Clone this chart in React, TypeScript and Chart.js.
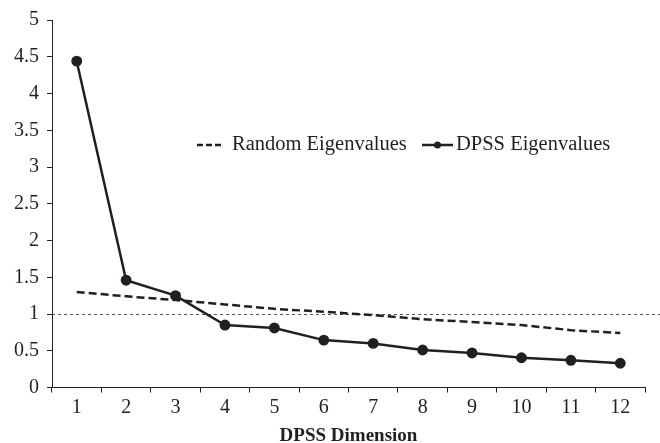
import React, { useEffect, useRef } from "react";
import { Chart, registerables } from "chart.js";

Chart.register(...registerables);

const categories = ["1", "2", "3", "4", "5", "6", "7", "8", "9", "10", "11", "12"];
const randomEigenvalues = [1.3, 1.24, 1.19, 1.13, 1.07, 1.03, 0.985, 0.93, 0.89, 0.85, 0.78, 0.74];
const dpssEigenvalues = [4.44, 1.46, 1.25, 0.85, 0.81, 0.645, 0.6, 0.51, 0.47, 0.405, 0.37, 0.33];
const thresholdValue = 1;
const xTitle = "DPSS Dimension";
const legendLabels = ["Random Eigenvalues", "DPSS Eigenvalues"];

const FONT = "'Liberation Serif', 'Times New Roman', serif";
const INK = "#231f20";

const thresholdPlugin = {
  id: "threshold",
  beforeDatasetsDraw(chart: any) {
    const { ctx, chartArea, scales } = chart;
    const y = Math.round(scales.y.getPixelForValue(thresholdValue)) + 0.5;
    ctx.save();
    ctx.strokeStyle = "#555";
    ctx.lineWidth = 1;
    ctx.setLineDash([3, 3]);
    ctx.beginPath();
    ctx.moveTo(chartArea.left, y);
    ctx.lineTo(chart.width, y);
    ctx.stroke();
    ctx.restore();
  },
};

const legendPlugin = {
  id: "insideLegend",
  afterDraw(chart: any) {
    const { ctx } = chart;
    const y = 145;
    ctx.save();
    ctx.font = `20.5px ${FONT}`;
    ctx.fillStyle = INK;
    ctx.textBaseline = "middle";
    ctx.textAlign = "left";
    ctx.strokeStyle = INK;
    ctx.lineWidth = 2.5;
    ctx.setLineDash([6, 3]);
    ctx.beginPath();
    ctx.moveTo(197, y);
    ctx.lineTo(223, y);
    ctx.stroke();
    ctx.setLineDash([]);
    ctx.fillText(legendLabels[0], 232, y);
    ctx.beginPath();
    ctx.moveTo(422, y);
    ctx.lineTo(453, y);
    ctx.stroke();
    ctx.beginPath();
    ctx.arc(437.5, y, 3.5, 0, Math.PI * 2);
    ctx.fill();
    ctx.fillText(legendLabels[1], 456, y);
    ctx.restore();
  },
};

export default function App() {
  const ref = useRef<HTMLCanvasElement>(null);
  useEffect(() => {
    document.body.style.margin = "0";
    const chart = new Chart(ref.current as HTMLCanvasElement, {
      type: "line",
      data: {
        labels: categories,
        datasets: [
          {
            label: legendLabels[0],
            data: randomEigenvalues,
            borderColor: INK,
            borderWidth: 2.5,
            borderDash: [8, 4],
            pointRadius: 0,
            fill: false,
          },
          {
            label: legendLabels[1],
            data: dpssEigenvalues,
            borderColor: INK,
            backgroundColor: INK,
            borderWidth: 2.5,
            pointRadius: 4.2,
            pointBackgroundColor: INK,
            pointBorderColor: INK,
            fill: false,
          },
        ],
      },
      options: {
        responsive: false,
        animation: false,
        layout: { padding: { top: 19, right: 15, left: 0, bottom: 0 } },
        plugins: { legend: { display: false }, tooltip: { enabled: false } },
        scales: {
          x: {
            type: "category",
            offset: true,
            grid: {
              display: true,
              drawOnChartArea: false,
              drawTicks: true,
              tickLength: 5,
              color: INK,
              offset: true,
            },
            border: { display: true, color: INK, width: 1 },
            ticks: { color: INK, font: { family: FONT, size: 20 }, padding: 3, maxRotation: 0 },
            title: {
              display: true,
              text: xTitle,
              color: INK,
              font: { family: FONT, size: 19, weight: "bold", lineHeight: 0.75 },
              padding: { top: 0, bottom: 0 },
            },
            afterFit(scale: any) {
              scale.height = 55.5;
            },
          },
          y: {
            min: 0,
            max: 5,
            ticks: {
              stepSize: 0.5,
              color: INK,
              font: { family: FONT, size: 20 },
              padding: 8,
              callback: (v: any) => String(Number(v)),
            },
            grid: {
              display: true,
              drawOnChartArea: false,
              drawTicks: true,
              tickLength: 5,
              color: INK,
            },
            border: { display: true, color: INK, width: 1 },
            afterFit(scale: any) {
              scale.width = 52;
            },
          },
        },
      },
      plugins: [thresholdPlugin, legendPlugin],
    } as any);
    return () => chart.destroy();
  }, []);
  return (
    <div style={{ position: "fixed", left: 0, top: 0, width: 660, height: 443 }}>
      <canvas ref={ref} width={660} height={443} />
    </div>
  );
}
